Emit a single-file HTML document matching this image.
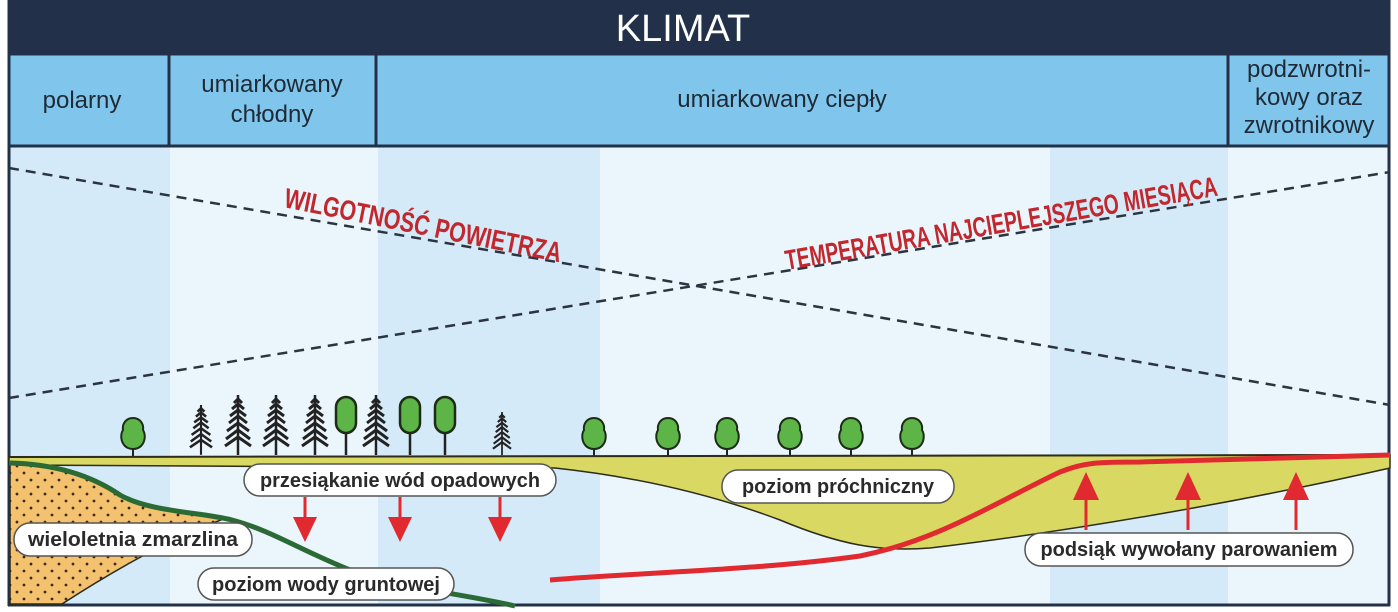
<!DOCTYPE html>
<html><head><meta charset="utf-8"><style>
html,body{margin:0;padding:0;background:#fff}
svg{display:block}
</style></head><body>
<svg width="1398" height="612" viewBox="0 0 1398 612" xmlns="http://www.w3.org/2000/svg">
<defs>
<pattern id="dots" width="14" height="14" patternUnits="userSpaceOnUse">
<rect width="14" height="14" fill="#f4c16e"/>
<circle cx="3" cy="4" r="1.4" fill="#3a2a14"/>
<circle cx="10" cy="11" r="1.4" fill="#3a2a14"/>
</pattern>
<g id="con">
<line x1="0" y1="0" x2="0" y2="60" stroke="#222" stroke-width="2.5"/>
<path d="M-4,8 L0,4 L4,8 M-6,14 L0,9 L6,14 M-8,21 L0,15 L8,21 M-9,28 L0,21 L9,28 M-11,36 L0,28 L11,36 M-12,44 L0,35 L12,44 M-13,51 L0,42 L13,51" fill="none" stroke="#222" stroke-width="3"/>
</g>
<g id="dec">
<line x1="0" y1="16" x2="0" y2="36" stroke="#222" stroke-width="2"/>
<path d="M0,-2 C7,-2 11,4 10,10 C13,15 12,22 8,26 C4,30 -4,30 -8,26 C-12,22 -13,15 -10,10 C-11,4 -7,-2 0,-2Z" fill="#5cb546" stroke="#1d2b17" stroke-width="2"/>
</g>
<g id="oval">
<line x1="0" y1="30" x2="0" y2="58" stroke="#222" stroke-width="2.5"/>
<rect x="-10" y="0" width="20" height="36" rx="10" fill="#5cb546" stroke="#1d2b17" stroke-width="2.5"/>
</g>
</defs>
<rect x="8" y="146" width="1382" height="460" fill="#eaf5fc"/>
<rect x="8" y="146" width="162" height="460" fill="#d4eaf8"/>
<rect x="378" y="146" width="222" height="460" fill="#d4eaf8"/>
<rect x="1050" y="146" width="178" height="460" fill="#d4eaf8"/>
<rect x="8" y="0" width="1382" height="54" fill="#223149"/>
<text x="683" y="41" text-anchor="middle" font-family="Liberation Sans, sans-serif" font-size="38" fill="#fff">KLIMAT</text>
<rect x="8" y="54" width="1382" height="93" fill="#80c6ec"/>
<g stroke="#223149" stroke-width="3" fill="none">
<line x1="8" y1="54" x2="1390" y2="54"/>
<line x1="8" y1="146" x2="1390" y2="146"/>
<line x1="169" y1="54" x2="169" y2="146"/>
<line x1="376" y1="54" x2="376" y2="146"/>
<line x1="1228" y1="54" x2="1228" y2="146"/>
<line x1="9" y1="0" x2="9" y2="606"/>
<line x1="1389" y1="0" x2="1389" y2="606"/>
<line x1="8" y1="605" x2="1390" y2="605"/>
</g>
<g font-family="Liberation Sans, sans-serif" font-size="24" fill="#1f2a36" text-anchor="middle">
<text x="82" y="108">polarny</text>
<text x="272" y="92">umiarkowany</text>
<text x="272" y="122">chłodny</text>
<text x="782" y="107">umiarkowany ciepły</text>
<text x="1309" y="77">podzwrotni-</text>
<text x="1309" y="105">kowy oraz</text>
<text x="1309" y="133">zwrotnikowy</text>
</g>
<g stroke="#2c3440" stroke-width="2.5" stroke-dasharray="10,7" fill="none">
<line x1="9" y1="168" x2="1390" y2="405"/>
<line x1="9" y1="398" x2="1390" y2="172"/>
</g>
<g font-family="Liberation Sans Narrow, Liberation Sans, sans-serif" font-weight="bold" font-size="28" fill="#c1272d">
<text transform="translate(283,207) rotate(11.3)" textLength="282" lengthAdjust="spacingAndGlyphs">WILGOTNOŚĆ POWIETRZA</text>
<text transform="translate(787,270) rotate(-9.8)" textLength="438" lengthAdjust="spacingAndGlyphs">TEMPERATURA NAJCIEPLEJSZEGO MIESIĄCA</text>
</g>
<use href="#dec" x="133" y="420"/>
<use href="#dec" x="594" y="420"/>
<use href="#dec" x="668" y="420"/>
<use href="#dec" x="727" y="420"/>
<use href="#dec" x="790" y="420"/>
<use href="#dec" x="851" y="420"/>
<use href="#dec" x="912" y="420"/>
<use href="#con" transform="translate(201,405) scale(0.85,0.83)"/>
<use href="#con" x="238" y="395"/>
<use href="#con" x="276" y="395"/>
<use href="#con" x="315" y="395"/>
<use href="#con" x="376" y="395"/>
<use href="#con" transform="translate(502,412) scale(0.7,0.72)"/>
<use href="#oval" x="346" y="397"/>
<use href="#oval" x="410" y="397"/>
<use href="#oval" x="445" y="397"/>
<path d="M9,457 L1390,455 L1390,468 C1250,500 1080,530 930,548 C880,552 840,545 780,520 C700,490 620,475 555,468 L9,465Z" fill="#d9d862" stroke="#2c2c1a" stroke-width="1.5"/>
<line x1="9" y1="457" x2="1390" y2="455" stroke="#2c2c1a" stroke-width="2"/>
<path d="M10,464 C60,466 95,478 120,495 C150,510 190,514 226,518 C180,535 130,560 62,604 L10,604Z" fill="url(#dots)" stroke="#2c2c1a" stroke-width="1.5"/>
<path d="M9,463 C60,464 95,478 120,495 C150,512 200,512 232,520 C270,530 300,550 350,570 C400,588 470,595 515,606" fill="none" stroke="#2a6a35" stroke-width="5"/>
<path d="M550,580 C650,572 760,570 860,556 C940,540 1000,500 1060,472 C1085,462 1100,462 1140,462 L1390,455" fill="none" stroke="#e12a2f" stroke-width="5"/>
<g fill="#e12a2f" stroke="#e12a2f">
<line x1="305" y1="497" x2="305" y2="520" stroke-width="3"/><path d="M293,517 L317,517 L305,542Z" stroke="none"/>
<line x1="400" y1="497" x2="400" y2="520" stroke-width="3"/><path d="M388,517 L412,517 L400,542Z" stroke="none"/>
<line x1="500" y1="497" x2="500" y2="520" stroke-width="3"/><path d="M488,517 L512,517 L500,542Z" stroke="none"/>
<line x1="1086" y1="495" x2="1086" y2="530" stroke-width="3"/><path d="M1073,500 L1099,500 L1086,472Z" stroke="none"/>
<line x1="1188" y1="495" x2="1188" y2="530" stroke-width="3"/><path d="M1175,500 L1201,500 L1188,472Z" stroke="none"/>
<line x1="1296" y1="495" x2="1296" y2="530" stroke-width="3"/><path d="M1283,500 L1309,500 L1296,472Z" stroke="none"/>
</g>
<g fill="#fff" stroke="#555" stroke-width="1.5">
<rect x="244" y="464" width="312" height="32" rx="16"/>
<rect x="14" y="523" width="238" height="33" rx="16"/>
<rect x="198" y="568" width="256" height="32" rx="16"/>
<rect x="722" y="470" width="232" height="33" rx="16"/>
<rect x="1025" y="533" width="328" height="33" rx="16"/>
</g>
<g font-family="Liberation Sans Narrow, Liberation Sans, sans-serif" font-weight="bold" font-size="20" fill="#2a2a2a" text-anchor="middle">
<text x="400" y="487" textLength="280" lengthAdjust="spacingAndGlyphs">przesiąkanie wód opadowych</text>
<text x="133" y="546" textLength="210" lengthAdjust="spacingAndGlyphs">wieloletnia zmarzlina</text>
<text x="326" y="591" textLength="228" lengthAdjust="spacingAndGlyphs">poziom wody gruntowej</text>
<text x="838" y="493" textLength="192" lengthAdjust="spacingAndGlyphs">poziom próchniczny</text>
<text x="1189" y="556" textLength="297" lengthAdjust="spacingAndGlyphs">podsiąk wywołany parowaniem</text>
</g>
</svg>
</body></html>
